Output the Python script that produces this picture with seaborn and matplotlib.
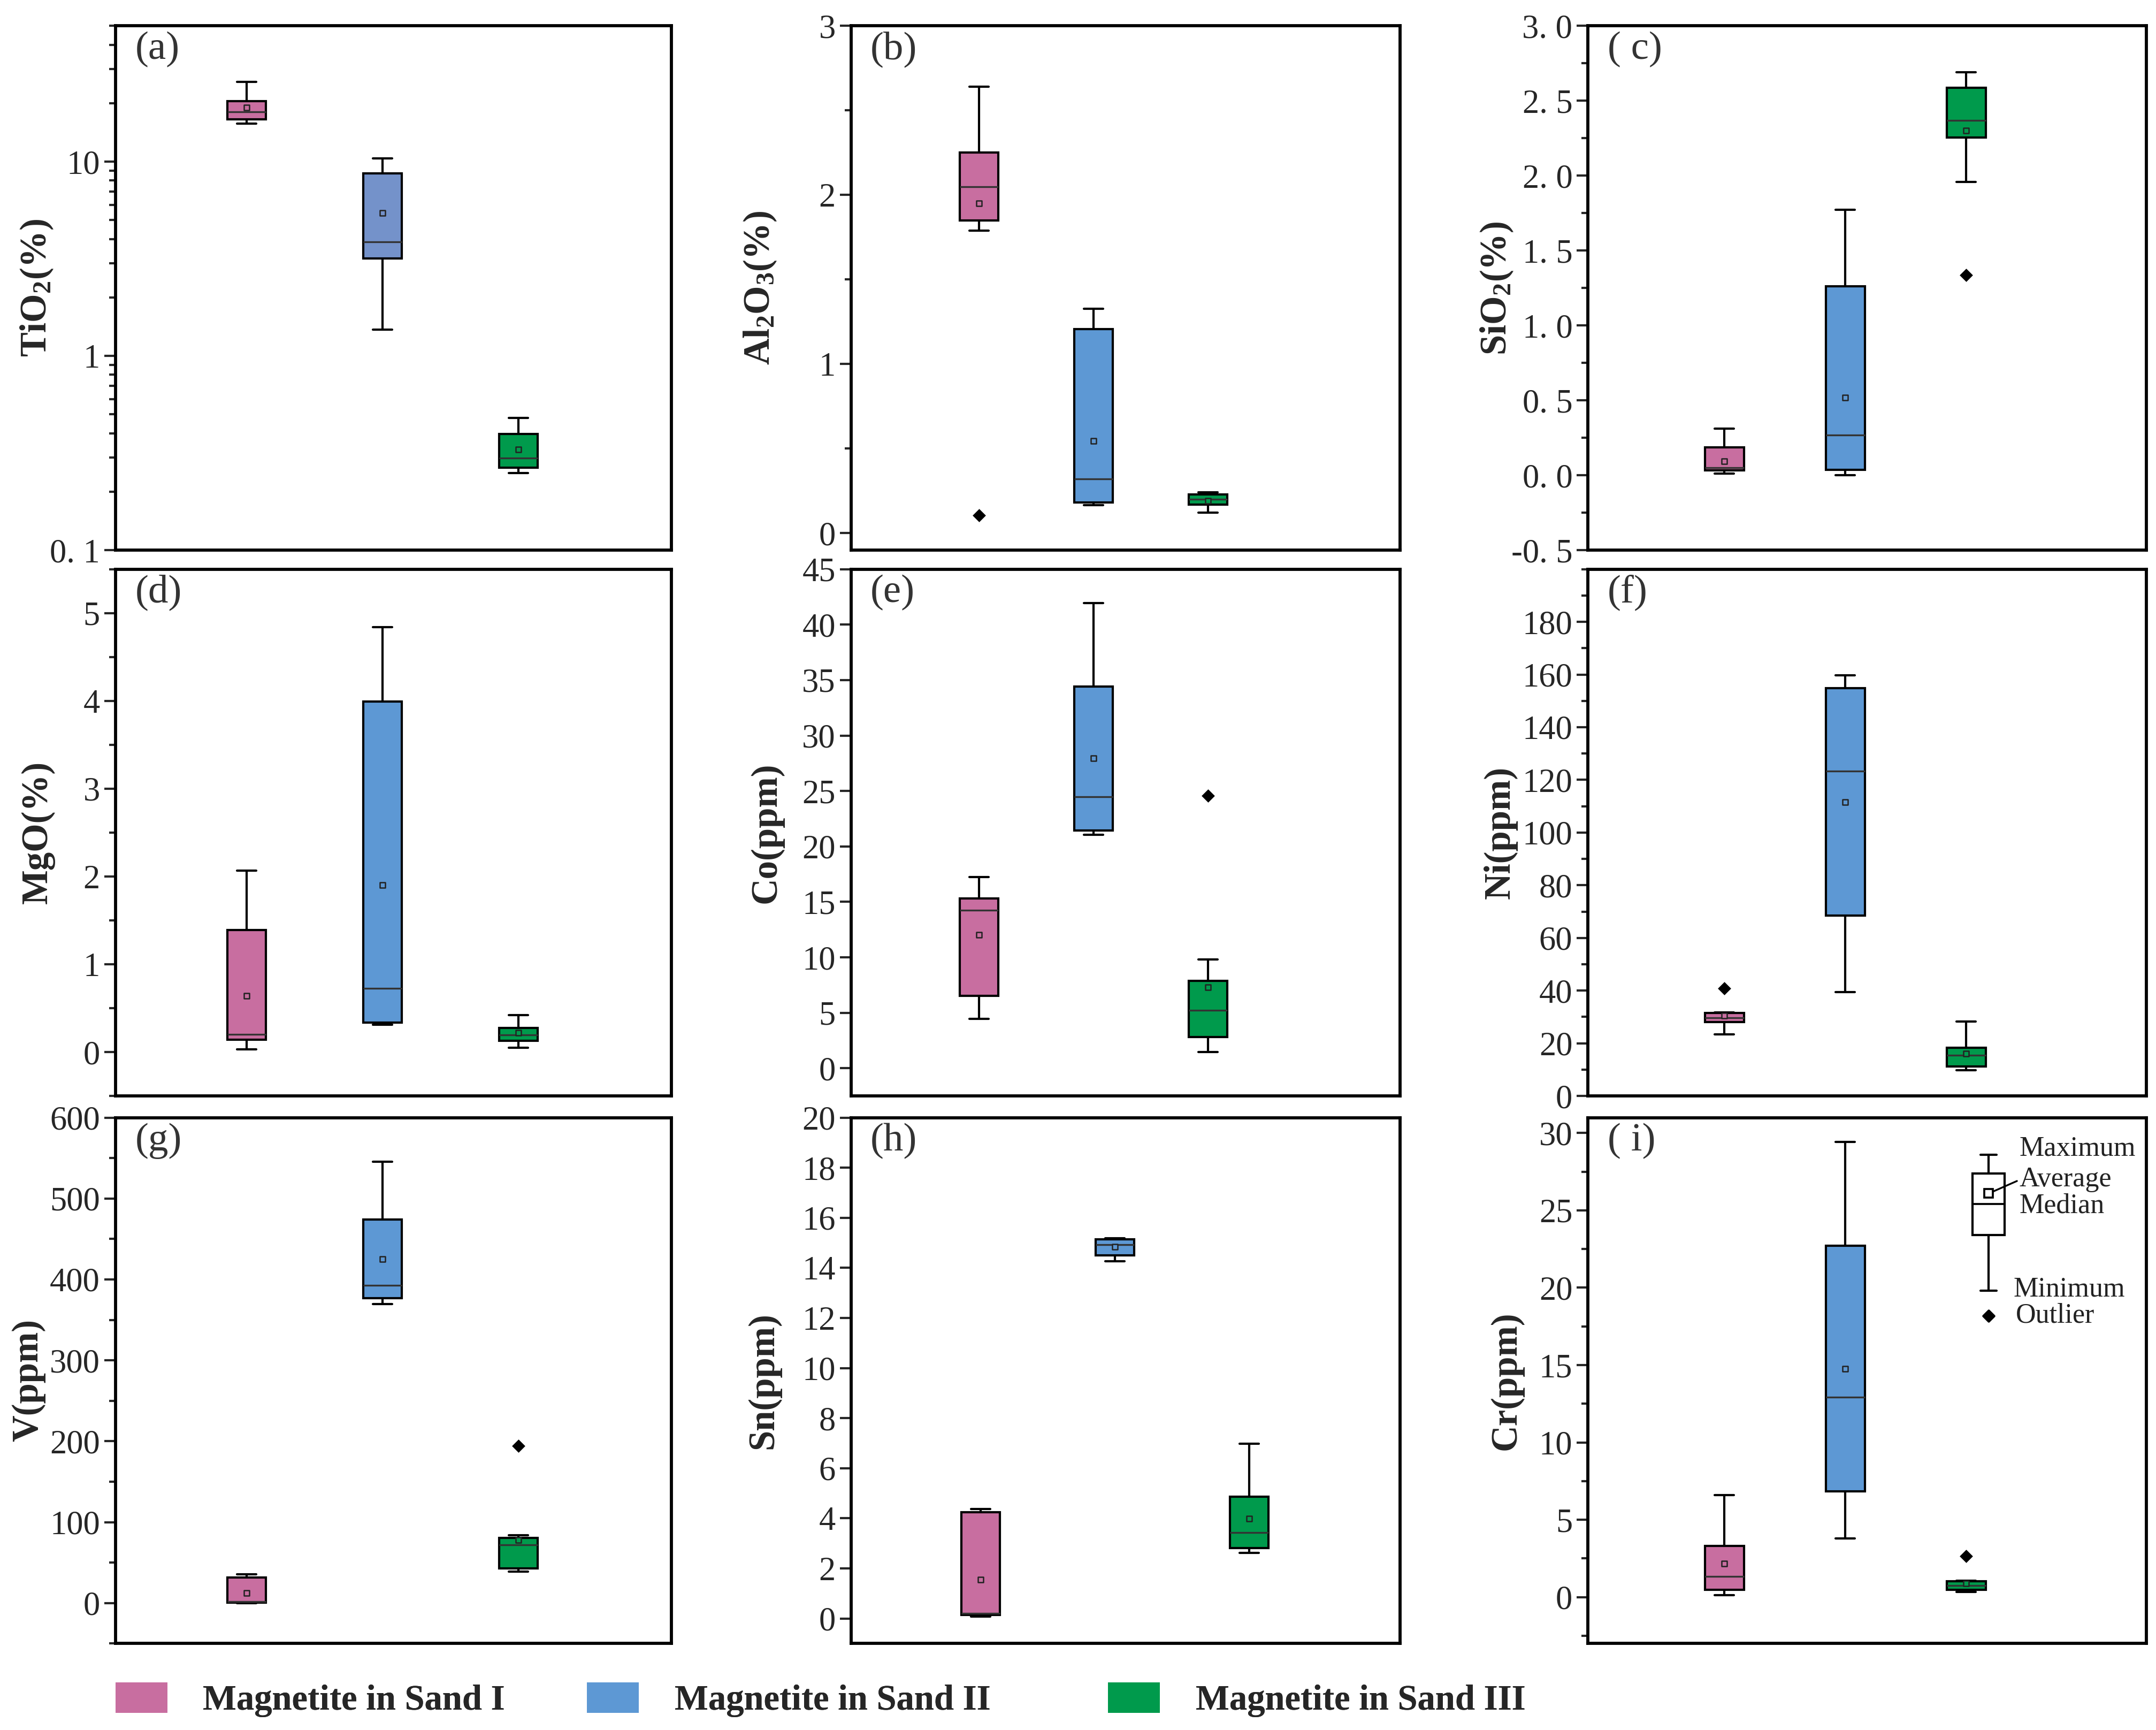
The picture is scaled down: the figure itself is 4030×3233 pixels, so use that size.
import numpy as np
import pandas as pd
import matplotlib
matplotlib.use("Agg")
import matplotlib.pyplot as plt
import seaborn as sns
from matplotlib.patches import Patch
from matplotlib.ticker import FixedLocator, MultipleLocator, LogLocator, NullFormatter, FixedFormatter, NullLocator

groups = ["Magnetite in Sand I", "Magnetite in Sand II", "Magnetite in Sand III"]

# five-number summaries per group: min, Q1, median, Q3, max
tio2_box = [[15.7, 16.5, 18.1, 20.5, 25.7], [1.37, 3.18, 3.87, 8.7, 10.4], [0.25, 0.265, 0.298, 0.397, 0.478]]
tio2_mean = [19.0, 5.43, 0.33]
tio2_out = [[], [], []]

al2o3_box = [[1.79, 1.85, 2.05, 2.25, 2.64], [0.165, 0.182, 0.321, 1.207, 1.329], [0.122, 0.169, 0.20, 0.229, 0.241]]
al2o3_mean = [1.95, 0.545, 0.19]
al2o3_out = [[0.107], [], []]

sio2_box = [[0.012, 0.031, 0.05, 0.185, 0.313], [0.0, 0.036, 0.27, 1.261, 1.772], [1.96, 2.256, 2.371, 2.588, 2.691]]
sio2_mean = [0.094, 0.52, 2.301]
sio2_out = [[], [], [1.336]]

mgo_box = [[0.028, 0.14, 0.204, 1.391, 2.069], [0.309, 0.337, 0.726, 3.99, 4.84], [0.048, 0.128, 0.196, 0.277, 0.421]]
mgo_mean = [0.638, 1.905, 0.22]
mgo_out = [[], [], []]

co_box = [[4.44, 6.52, 14.23, 15.33, 17.25], [21.06, 21.44, 24.46, 34.41, 41.94], [1.45, 2.83, 5.23, 7.87, 9.79]]
co_mean = [12.03, 27.96, 7.30]
co_out = [[], [], [24.56]]

ni_box = [[23.3, 28.0, 29.6, 31.5, 31.8], [39.5, 68.4, 123.3, 154.8, 159.8], [9.8, 11.2, 15.4, 18.3, 28.2]]
ni_mean = [30.5, 111.5, 16.1]
ni_out = [[40.8], [], []]

v_box = [[0.0, 0.5, 2.0, 31.6, 35.6], [369.2, 377.1, 392.9, 473.7, 545.7], [39.1, 42.6, 72.0, 80.3, 83.8]]
v_mean = [12.7, 425.4, 78.1]
v_out = [[], [], [194.0]]

sn_box = [[0.07, 0.13, 0.21, 4.24, 4.38], [14.27, 14.49, 14.93, 15.14, 15.18], [2.61, 2.82, 3.43, 4.86, 6.97]]
sn_mean = [1.545, 14.83, 3.98]
sn_out = [[], [], []]

cr_box = [[0.11, 0.46, 1.35, 3.30, 6.61], [3.78, 6.83, 12.91, 22.71, 29.43], [0.34, 0.48, 0.76, 1.03, 1.05]]
cr_mean = [2.18, 14.77, 0.87]
cr_out = [[], [], [2.64]]

# key box drawn inside panel (i)
key_box = [19.8, 23.4, 25.4, 27.4, 28.6]
key_mean = 26.1

PINK = "#C86EA0"
BLUE = "#5D98D4"
BLUE_A = "#7492CA"
GREEN = "#009A4C"

sns.set_style("ticks")
plt.rcParams["font.family"] = ["Liberation Serif", "DejaVu Serif"]
plt.rcParams["mathtext.fontset"] = "custom"
plt.rcParams["mathtext.bf"] = "Liberation Serif:bold"
plt.rcParams["mathtext.rm"] = "Liberation Serif"
plt.rcParams["mathtext.default"] = "bf"

# xlim per column style: first category position and spacing in axes fraction
LAYOUT = {"A": (0.236, 0.2445), "B": (0.233, 0.2085), "C": (0.244, 0.2165)}
BOX_FRAC = 0.07


def fmt_dot(v):
    return f"{v:.1f}".replace(".", ". ")


def draw_panel(ax, tag, box, means, outs, ylabel, ylim, ticks, labels, minor, kind, labx, blue=BLUE, log=False):
    first, step = LAYOUT[kind]
    width = BOX_FRAC / step
    pal = [PINK, blue, GREEN]
    long = pd.DataFrame({"group": np.repeat(groups, 5), "value": np.concatenate(box)})
    sns.boxplot(data=long, x="group", y="value", hue="group", order=groups, hue_order=groups,
                palette=pal, saturation=1, width=width, whis=(0, 100), linecolor="black",
                linewidth=1.0, showfliers=False, legend=False, ax=ax,
                medianprops=dict(color="#333333", linewidth=0.8))
    sns.stripplot(x=groups, y=means, order=groups, hue=groups, hue_order=groups, palette=pal,
                  marker="s", size=2.4, edgecolor="#222222", linewidth=0.6, jitter=False,
                  legend=False, ax=ax, zorder=5)
    og = [g for g, o in zip(groups, outs) for _ in o]
    ov = [v for o in outs for v in o]
    if ov:
        sns.stripplot(x=og, y=ov, order=groups, color="black", marker="D", size=4.2,
                      jitter=False, legend=False, ax=ax, zorder=5)
    lo = -first / step
    ax.set_xlim(lo, lo + 1 / step)
    if log:
        ax.set_yscale("log")
        ax.yaxis.set_minor_locator(LogLocator(base=10, subs=np.arange(2, 10)))
        ax.yaxis.set_minor_formatter(NullFormatter())
    ax.set_ylim(*ylim)
    ax.yaxis.set_major_locator(FixedLocator(ticks))
    ax.yaxis.set_major_formatter(FixedFormatter(labels))
    if minor and not log:
        ax.yaxis.set_minor_locator(MultipleLocator(minor))
    elif not log:
        ax.yaxis.set_minor_locator(NullLocator())
    ax.set_xticks([])
    ax.set_xlabel("")
    ax.set_ylabel(ylabel, fontsize=16.5, fontweight="bold")
    ax.yaxis.set_label_coords(labx, 0.5)
    ax.tick_params(axis="y", which="major", direction="out", length=5, width=1.0, labelsize=15, pad=2)
    ax.tick_params(axis="y", which="minor", direction="out", length=2.8, width=1.0)
    for s in ax.spines.values():
        s.set_linewidth(1.4)
        s.set_color("black")
    ax.text(0.035, 0.99, tag, transform=ax.transAxes, ha="left", va="top", fontsize=18, color="#333333")


fig = plt.figure(figsize=(4030 / 300, 3233 / 300), dpi=300)

cols = [(0.0536, 0.2577), (0.3948, 0.2545), (0.7366, 0.2590)]
rows = [(0.682, 0.303), (0.3665, 0.3045), (0.050, 0.3040)]

panels = [
    ("(a)", tio2_box, tio2_mean, tio2_out, "TiO$_2$(%)", (0.1, 50), [0.1, 1, 10], ["0. 1", "1", "10"], None, "A", -0.109, BLUE_A, True),
    ("(b)", al2o3_box, al2o3_mean, al2o3_out, "Al$_2$O$_3$(%)", (-0.1, 3.0), [0, 1, 2, 3], ["0", "1", "2", "3"], 0.5, "B", -0.133, BLUE, False),
    ("( c)", sio2_box, sio2_mean, sio2_out, "SiO$_2$(%)", (-0.5, 3.0), list(np.arange(-0.5, 3.01, 0.5)), [fmt_dot(v) for v in np.arange(-0.5, 3.01, 0.5)], 0.25, "C", -0.131, BLUE, False),
    ("(d)", mgo_box, mgo_mean, mgo_out, "MgO(%)", (-0.5, 5.5), [0, 1, 2, 3, 4, 5], ["0", "1", "2", "3", "4", "5"], 0.5, "A", -0.109, BLUE, False),
    ("(e)", co_box, co_mean, co_out, "Co(ppm)", (-2.5, 45), list(range(0, 46, 5)), [str(v) for v in range(0, 46, 5)], None, "B", -0.123, BLUE, False),
    ("(f)", ni_box, ni_mean, ni_out, "Ni(ppm)", (0, 200), list(range(0, 181, 20)), [str(v) for v in range(0, 181, 20)], 10, "C", -0.126, BLUE, False),
    ("(g)", v_box, v_mean, v_out, "V(ppm)", (-50, 600), list(range(0, 601, 100)), [str(v) for v in range(0, 601, 100)], 50, "A", -0.126, BLUE, False),
    ("(h)", sn_box, sn_mean, sn_out, "Sn(ppm)", (-1, 20), list(range(0, 21, 2)), [str(v) for v in range(0, 21, 2)], None, "A", -0.128, BLUE, False),
    ("( i)", cr_box, cr_mean, cr_out, "Cr(ppm)", (-3, 31), list(range(0, 31, 5)), [str(v) for v in range(0, 31, 5)], 2.5, "C", -0.116, BLUE, False),
]

axes = []
for i, p in enumerate(panels):
    r, c = divmod(i, 3)
    x0, w = cols[c]
    y0, h = rows[r]
    ax = fig.add_axes([x0, y0, w, h])
    draw_panel(ax, *p[:10], labx=p[10], blue=p[11], log=p[12])
    axes.append(ax)

# key inside panel (i)
axi = axes[8]
first, step = LAYOUT["C"]
lo = -first / step
kpos = lo + 0.717 / step
kstats = [dict(whislo=key_box[0], q1=key_box[1], med=key_box[2], q3=key_box[3], whishi=key_box[4],
               mean=key_mean, fliers=[])]
axi.bxp(kstats, positions=[kpos], widths=[0.058 / step], showmeans=True, patch_artist=True,
        boxprops=dict(facecolor="white", edgecolor="black", linewidth=1.0),
        medianprops=dict(color="black", linewidth=0.9),
        whiskerprops=dict(color="black", linewidth=1.0), capprops=dict(color="black", linewidth=1.0),
        meanprops=dict(marker="s", markersize=4, markerfacecolor="white", markeredgecolor="black", markeredgewidth=0.9),
        manage_ticks=False)
axi.scatter([kpos], [18.2], marker="D", s=12, color="black", zorder=5)
tr = axi.get_yaxis_transform()
key_txt = [("Maximum", 0.772, 29.0), ("Average", 0.772, 27.0), ("Median", 0.772, 25.3),
           ("Minimum", 0.762, 19.9), ("Outlier", 0.766, 18.2)]
for t, xf, yv in key_txt:
    axi.text(xf, yv, t, transform=tr, ha="left", va="center", fontsize=12.5, color="#222222")
axi.plot([0.724, 0.768], [26.2, 26.9], transform=tr, color="black", linewidth=0.8)

# bottom legend, one entry per group at its own x position
leg_x = [0.0536, 0.2723, 0.514]
for c, g, lx in zip([PINK, BLUE, GREEN], groups, leg_x):
    lg = fig.legend([Patch(facecolor=c, edgecolor="none")], [g], loc="center left",
                    bbox_to_anchor=(lx, 0.0175), frameon=False, borderpad=0, borderaxespad=0,
                    prop=dict(family="Liberation Serif", weight="bold", size=16),
                    handlelength=1.45, handleheight=0.95, handletextpad=1.0)
    fig.add_artist(lg)

fig.savefig("out.png", dpi=300, facecolor="white")
